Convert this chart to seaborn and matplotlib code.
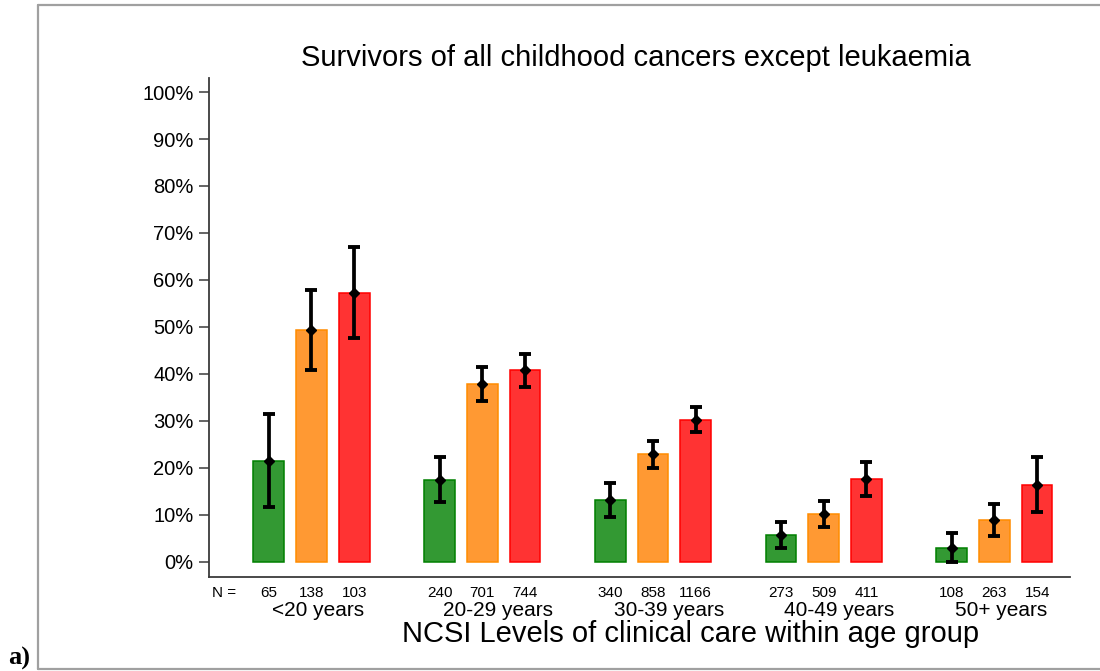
import numpy as np
import pandas as pd
import matplotlib
matplotlib.use("Agg")
import matplotlib.pyplot as plt
from matplotlib.transforms import blended_transform_factory
from matplotlib.lines import Line2D
import seaborn as sns

# Age groups and NCSI levels of clinical care
age_groups = ["<20 years", "20-29 years", "30-39 years", "40-49 years", "50+ years"]
levels = ["Level 1", "Level 2", "Level 3"]

# Percentage of survivors per age group, one list per care level
level1_pct = [21.5, 17.4, 13.1, 5.6, 2.8]
level2_pct = [49.3, 37.9, 22.8, 10.1, 8.8]
level3_pct = [57.3, 40.7, 30.2, 17.6, 16.4]

# 95% confidence limits
level1_lo = [11.6, 12.7, 9.4, 2.9, 0.0]
level1_hi = [31.5, 22.3, 16.7, 8.4, 6.0]
level2_lo = [40.9, 34.2, 19.9, 7.4, 5.5]
level2_hi = [57.8, 41.4, 25.6, 12.8, 12.3]
level3_lo = [47.7, 37.1, 27.5, 13.9, 10.5]
level3_hi = [67.0, 44.3, 32.9, 21.3, 22.2]

# Number of survivors in each bar
level1_n = [65, 240, 340, 273, 108]
level2_n = [138, 701, 858, 509, 263]
level3_n = [103, 744, 1166, 411, 154]

yticks = list(range(0, 101, 10))

fills = ["#339933", "#FF9933", "#FF3333"]
edges = ["#008000", "#FF8C00", "#FF0000"]

# Long-form table; bars of a group sit at consecutive positions, groups 4 apart
rows = []
for g, age in enumerate(age_groups):
    for k, (lev, pct, lo, hi, n) in enumerate(zip(
            levels,
            [level1_pct, level2_pct, level3_pct],
            [level1_lo, level2_lo, level3_lo],
            [level1_hi, level2_hi, level3_hi],
            [level1_n, level2_n, level3_n])):
        rows.append(dict(age=age, level=lev, pos=4 * g + k,
                         pct=pct[g], lo=lo[g], hi=hi[g], n=n[g]))
df = pd.DataFrame(rows)

sns.set_style("white")
plt.rcParams["font.family"] = ["Liberation Sans", "DejaVu Sans"]
plt.rcParams["text.color"] = "black"
plt.rcParams["axes.labelcolor"] = "black"
plt.rcParams["ytick.color"] = "black"

fig = plt.figure(figsize=(11, 6.71), dpi=100)
ax = fig.add_axes([209 / 1100, 1 - 577 / 671, (1070 - 209) / 1100, (577 - 78) / 671])

sns.barplot(data=df, x="pos", y="pct", hue="level", hue_order=levels,
            palette=fills, native_scale=True, dodge=False, width=0.72,
            saturation=1, errorbar=None, legend=False, ax=ax)

# Outline each bar in a deeper shade of its fill
fill_rgb = [np.array(matplotlib.colors.to_rgb(c)) for c in fills]
for p in ax.patches:
    fc = np.array(p.get_facecolor()[:3])
    idx = int(np.argmin([np.abs(fc - c).sum() for c in fill_rgb]))
    p.set_edgecolor(edges[idx])
    p.set_linewidth(1.1)

# Confidence intervals with point estimates
ax.errorbar(df["pos"], df["pct"],
            yerr=[df["pct"] - df["lo"], df["hi"] - df["pct"]],
            fmt="D", color="black", ms=5.2, elinewidth=2.7,
            capsize=4.6, capthick=2.8, zorder=5)

ax.set_xlim(-1.40, 18.77)
ax.set_ylim(-3.3, 103.0)
ax.set_yticks(yticks)
ax.set_yticklabels([f"{v}%" for v in yticks], fontsize=14.5)
ax.set_xticks([])
ax.set_xlabel("")
ax.set_ylabel("")
for side in ["top", "right"]:
    ax.spines[side].set_visible(False)
for side in ["left", "bottom"]:
    ax.spines[side].set_color("#3a3a3a")
    ax.spines[side].set_linewidth(1.3)
ax.tick_params(axis="y", left=True, length=7.5, width=1.1, color="#3a3a3a",
               pad=3.5, labelcolor="black")

# Counts and age-group captions under the axis
tr = blended_transform_factory(ax.transData, fig.transFigure)
ax.text(-1.04, 1 - 593 / 671, "N =", transform=tr, ha="center", va="center",
        fontsize=11)
for _, r in df.iterrows():
    ax.text(r["pos"], 1 - 593 / 671, f"{r['n']}", transform=tr,
            ha="center", va="center", fontsize=11)
for g, age in enumerate(age_groups):
    ax.text(4 * g + 0.08, 1 - 616 / 671, age, transform=tr,
            ha="left", va="baseline", fontsize=15)

fig.text(690.5 / 1100, 1 - 642 / 671,
         "NCSI Levels of clinical care within age group",
         ha="center", va="baseline", fontsize=21)
fig.text(636 / 1100, 1 - 66 / 671,
         "Survivors of all childhood cancers except leukaemia",
         ha="center", va="baseline", fontsize=21)

# Panel frame and tag
frame_kw = dict(color="#a0a0a0", linewidth=1.6, transform=fig.transFigure)
fig.add_artist(Line2D([37.5 / 1100, 37.5 / 1100], [1 - 669 / 671, 1 - 5 / 671], **frame_kw))
fig.add_artist(Line2D([37.5 / 1100, 1.0], [1 - 5 / 671, 1 - 5 / 671], **frame_kw))
fig.add_artist(Line2D([37.5 / 1100, 1.0], [1 - 669 / 671, 1 - 669 / 671], **frame_kw))
fig.text(8 / 1100, 1 - 665 / 671, "a)", ha="left", va="baseline",
         fontsize=19, fontweight="bold", family=["Liberation Serif", "DejaVu Serif"])

fig.savefig("out.png", dpi=100)
